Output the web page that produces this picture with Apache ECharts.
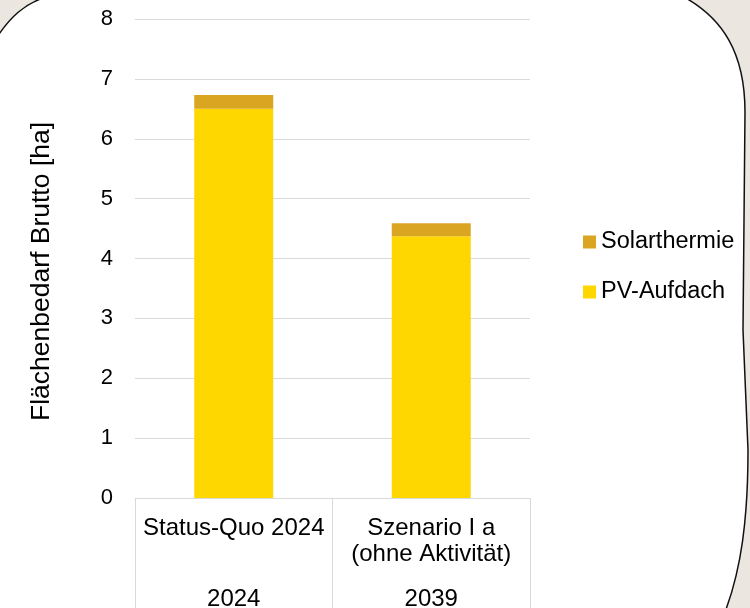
<!DOCTYPE html>
<html>
<head>
<meta charset="utf-8">
<script src="https://cdn.jsdelivr.net/npm/echarts@6/dist/echarts.min.js"></script>
<style>
  html, body { margin: 0; padding: 0; background: #ebe7e0; }
  #wrap { position: relative; width: 750px; height: 608px; overflow: hidden; }
  #frame { position: absolute; left: 0; top: 0; }
  #chart { position: absolute; left: 0; top: 0; width: 750px; height: 608px; }
</style>
</head>
<body>
<div id="wrap">
  <svg id="frame" width="750" height="608">
    <path d="M -5 40 C 10 17, 24 4, 46 -3 L 684 -3 C 722 18, 745 52, 745 112 L 743 330 L 748 450 C 748 520, 741 570, 725 612 L -5 612 Z"
          fill="#ffffff" stroke="#111111" stroke-width="1.5"/>
  </svg>
  <div id="chart"></div>
</div>
<script>
(function () {

  var categories = ['Status-Quo 2024', 'Szenario I a\n(ohne Aktivität)'];
  var years = ['2024', '2039'];
  var pvAufdach = [6.5, 4.37];
  var solarthermie = [0.23, 0.22];

  var font = '"Liberation Sans", Arial, sans-serif';
  var gridColor = '#d9d9d9';

  var myChart = echarts.init(document.getElementById('chart'));
  var option = {
    backgroundColor: 'transparent',
    animation: false,
    textStyle: { fontFamily: font },
    grid: {
      left: 135,
      right: 220,
      top: 19,
      bottom: 110,
      containLabel: false,
      outerBoundsMode: 'none'
    },
    legend: {
      orient: 'vertical',
      left: 578,
      top: 223,
      itemWidth: 13,
      itemHeight: 13,
      itemGap: 22,
      icon: 'rect',
      data: ['Solarthermie', 'PV-Aufdach'],
      textStyle: { fontSize: 23.5, color: '#000', lineHeight: 28, fontFamily: font }
    },
    xAxis: [{
      type: 'category',
      data: categories,
      position: 'bottom',
      axisLine: { show: true, lineStyle: { color: gridColor } },
      axisTick: { show: true, length: 112, lineStyle: { color: gridColor } },
      axisLabel: {
        margin: 17,
        fontSize: 24,
        lineHeight: 26,
        color: '#000',
        interval: 0
      }
    }, {
      type: 'category',
      data: years,
      position: 'bottom',
      axisLine: { show: false },
      axisTick: { show: false },
      axisLabel: {
        margin: 88,
        fontSize: 24,
        lineHeight: 26,
        color: '#000',
        interval: 0
      }
    }],
    yAxis: {
      type: 'value',
      min: 0,
      max: 8,
      interval: 1,
      name: 'Flächenbedarf Brutto [ha]',
      nameLocation: 'middle',
      nameRotate: 90,
      nameGap: 80,
      nameTextStyle: { fontSize: 26.5, color: '#000', padding: [0, 26, 0, 0] },
      axisLine: { show: false },
      axisTick: { show: false },
      splitLine: { lineStyle: { color: gridColor } },
      axisLabel: { fontSize: 22, color: '#000', margin: 22 }
    },
    series: [{
      name: 'PV-Aufdach',
      type: 'bar',
      stack: 'total',
      barWidth: '40%',
      itemStyle: { color: '#ffd700' },
      data: pvAufdach
    }, {
      name: 'Solarthermie',
      type: 'bar',
      stack: 'total',
      barWidth: '40%',
      itemStyle: { color: '#daa520' },
      data: solarthermie
    }]
  };

  myChart.setOption(option);
})()
</script>
</body>
</html>
